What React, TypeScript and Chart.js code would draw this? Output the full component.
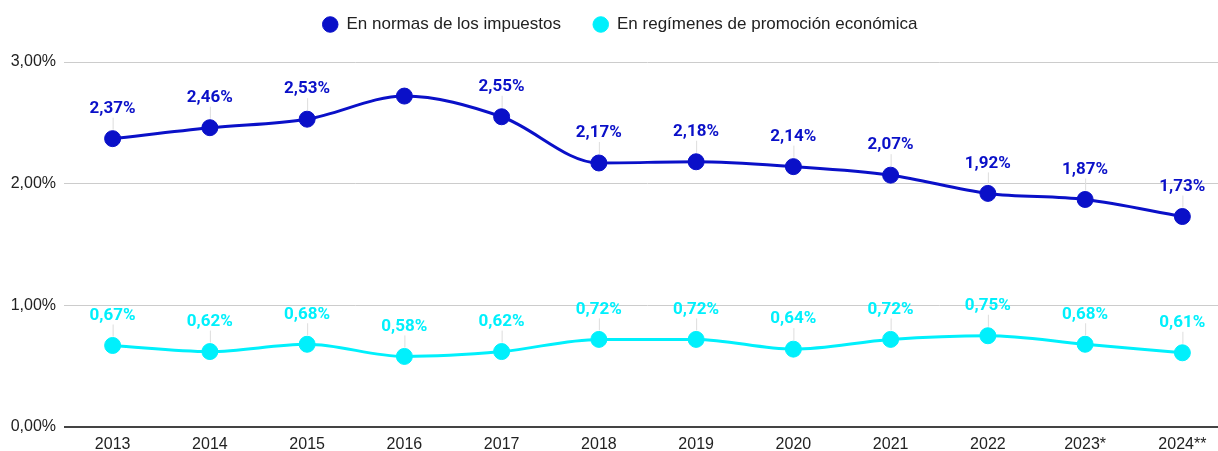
import React, { useEffect, useRef } from "react";
import { Chart, registerables } from "chart.js";

Chart.register(...registerables);

const categories = ["2013", "2014", "2015", "2016", "2017", "2018", "2019", "2020", "2021", "2022", "2023*", "2024**"];
const normasValues = [2.37, 2.46, 2.53, 2.72, 2.55, 2.17, 2.18, 2.14, 2.07, 1.92, 1.87, 1.73];
const normasLabels = ["2,37%", "2,46%", "2,53%", null, "2,55%", "2,17%", "2,18%", "2,14%", "2,07%", "1,92%", "1,87%", "1,73%"];
const promocionValues = [0.67, 0.62, 0.68, 0.58, 0.62, 0.72, 0.72, 0.64, 0.72, 0.75, 0.68, 0.61];
const promocionLabels = ["0,67%", "0,62%", "0,68%", "0,58%", "0,62%", "0,72%", "0,72%", "0,64%", "0,72%", "0,75%", "0,68%", "0,61%"];
const seriesNames = ["En normas de los impuestos", "En regímenes de promoción económica"];
const yTicks = [0, 1, 2, 3];

const DARK = "#0a10c8";
const CYAN = "#00f0fc";
const LABEL_FONT = "Roboto, 'Noto Sans', sans-serif";
const AXIS_FONT = "'Liberation Sans', Arial, sans-serif";

const valueLabelPlugin = {
  id: "valueLabels",
  beforeUpdate(chart: any) {
    const lg = chart.legend;
    if (lg && !lg.__patched) {
      const f = lg.fit.bind(lg);
      lg.fit = () => {
        f();
        lg.height = 78;
      };
      lg.__patched = true;
    }
  },
  afterDatasetsDraw(chart: any) {
    const ctx = chart.ctx;
    chart.data.datasets.forEach((ds: any, di: number) => {
      const meta = chart.getDatasetMeta(di);
      const labels: (string | null)[] = ds.valueLabels;
      meta.data.forEach((pt: any, i: number) => {
        const txt = labels[i];
        if (!txt) return;
        const x = pt.x;
        const y = pt.y;
        ctx.save();
        ctx.strokeStyle = "#dddddd";
        ctx.lineWidth = 1;
        ctx.beginPath();
        ctx.moveTo(x + 0.5, y - 9);
        ctx.lineTo(x + 0.5, y - 21);
        ctx.stroke();
        ctx.fillStyle = ds.borderColor;
        ctx.font = `bold 17px ${LABEL_FONT}`;
        ctx.textAlign = "center";
        ctx.textBaseline = "middle";
        ctx.fillText(txt, x, y - 30);
        ctx.restore();
      });
    });
  },
};

export default function App() {
  const ref = useRef<HTMLCanvasElement>(null);
  useEffect(() => {
    document.body.style.margin = "0";
    document.body.style.overflow = "hidden";
    const chart = new Chart(ref.current as HTMLCanvasElement, {
      type: "line",
      data: {
        labels: categories,
        datasets: [
          {
            label: seriesNames[0],
            data: normasValues,
            valueLabels: normasLabels,
            borderColor: DARK,
            backgroundColor: DARK,
            borderWidth: 3,
            pointRadius: 8,
            pointBorderWidth: 1,
            pointHoverRadius: 8,
            tension: 0.4,
            cubicInterpolationMode: "monotone",
          } as any,
          {
            label: seriesNames[1],
            data: promocionValues,
            valueLabels: promocionLabels,
            borderColor: CYAN,
            backgroundColor: CYAN,
            borderWidth: 3,
            pointRadius: 8,
            pointBorderWidth: 1,
            pointHoverRadius: 8,
            tension: 0.4,
            cubicInterpolationMode: "monotone",
          } as any,
        ],
      },
      options: {
        responsive: false,
        animation: false,
        layout: { padding: { top: -16, left: 0, right: 0, bottom: 0 } },
        plugins: {
          legend: {
            position: "top",
            labels: {
              usePointStyle: true,
              pointStyle: "circle",
              boxWidth: 11,
              boxHeight: 11,
              pointStyleWidth: 15.5,
              padding: 32,
              color: "#222",
              font: { family: AXIS_FONT, size: 17 },
            },
          },
          tooltip: { enabled: false },
        },
        scales: {
          x: {
            offset: true,
            grid: { display: false, drawTicks: false },
            border: { display: false },
            ticks: { color: "#222", font: { family: AXIS_FONT, size: 16 }, padding: 8, maxRotation: 0 },
            afterFit: (s: any) => { s.height = 24; },
          },
          y: {
            min: 0,
            max: 3,
            afterBuildTicks: (s: any) => { s.ticks = yTicks.map((v) => ({ value: v })); },
            border: { display: false },
            grid: {
              color: (c: any) => (c.tick && c.tick.value === 0 ? "#444444" : "#cccccc"),
              lineWidth: (c: any) => (c.tick && c.tick.value === 0 ? 2 : 1),
              drawTicks: false,
            },
            ticks: {
              color: "#222",
              font: { family: AXIS_FONT, size: 16 },
              padding: 8,
              callback: (v: any) => Number(v).toFixed(2).replace(".", ",") + "%",
            },
            afterFit: (s: any) => { s.width = 64; },
          },
        },
      },
      plugins: [valueLabelPlugin],
    });
    return () => chart.destroy();
  }, []);
  return (
    <div style={{ position: "absolute", left: 0, top: 0, width: 1218, height: 451, overflow: "hidden" }}>
      <canvas ref={ref} width={1240} height={451} style={{ display: "block" }} />
    </div>
  );
}
